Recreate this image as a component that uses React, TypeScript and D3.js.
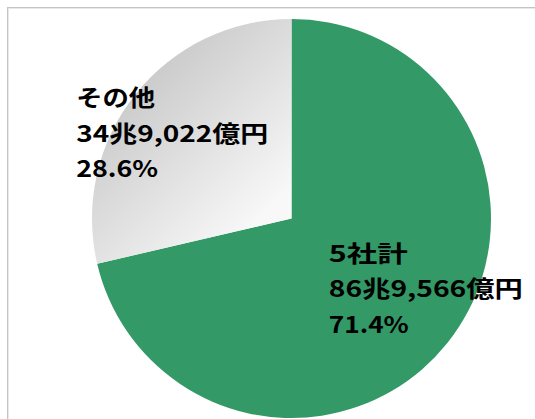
import React from "react";
import * as d3 from "d3";

const categories = ["5社計", "その他"];
const values = [869566, 349022]; // 億円
const valueLabels = ["86兆9,566億円", "34兆9,022億円"];
const percentLabels = ["71.4%", "28.6%"];

const W = 535;
const H = 419;
const CX = 291.5;
const CY = 218.5;
const R = 199.5;
const FONT = "'Noto Sans CJK JP', 'Noto Sans', sans-serif";

// label layout (offset from the slice centroid at radius 100), and line widths
const labelOffsets = [
  { dx: -41, dy: -19 },
  { dx: -137, dy: -50 },
];
const lineWidths = [
  [79, 194, 80],
  [79, 192, 82],
];
const LINE_PITCH = 35.5;

export default function App() {
  const pie = d3
    .pie<number>()
    .sort(null)
    .value((d) => d)
    .startAngle(0)
    .endAngle(2 * Math.PI);
  const arcs = pie(values);
  const arc = d3.arc<d3.PieArcDatum<number>>().innerRadius(0).outerRadius(R);
  const centroidArc = d3
    .arc<d3.PieArcDatum<number>>()
    .innerRadius(0)
    .outerRadius(200);
  const fills = ["#339966", "url(#grayGrad)"];

  return (
    <svg
      width={W}
      height={H}
      style={{ position: "absolute", left: 0, top: 0, background: "#fff" }}
    >
      <defs>
        <linearGradient
          id="grayGrad"
          gradientUnits="userSpaceOnUse"
          x1={-170}
          y1={-180}
          x2={-10}
          y2={-20}
        >
          <stop offset="0" stopColor="#c0c0c0" />
          <stop offset="1" stopColor="#f8f8f8" />
        </linearGradient>
      </defs>
      <rect x={7.5} y={7.5} width={600} height={600} fill="none" stroke="#c4c4c4" />
      <rect x={8.5} y={8.5} width={600} height={600} fill="none" stroke="#e8e8e8" />
      <g transform={`translate(${CX},${CY})`}>
        {arcs.map((a, i) => (
          <path key={categories[i]} d={arc(a) || ""} fill={fills[i]} />
        ))}
        {arcs.map((a, i) => {
          const [x, y] = centroidArc.centroid(a);
          const lx = x + labelOffsets[i].dx;
          const ly = y + labelOffsets[i].dy;
          const lines = [categories[i], valueLabels[i], percentLabels[i]];
          return (
            <g key={"lab" + i}>
              {lines.map((t, j) => (
                <text
                  key={j}
                  x={lx}
                  y={ly + j * LINE_PITCH}
                  fontFamily={FONT}
                  fontSize={23}
                  fontWeight={700}
                  fill="#000"
                  textLength={lineWidths[i][j]}
                  lengthAdjust="spacingAndGlyphs"
                >
                  {t}
                </text>
              ))}
            </g>
          );
        })}
      </g>
    </svg>
  );
}
